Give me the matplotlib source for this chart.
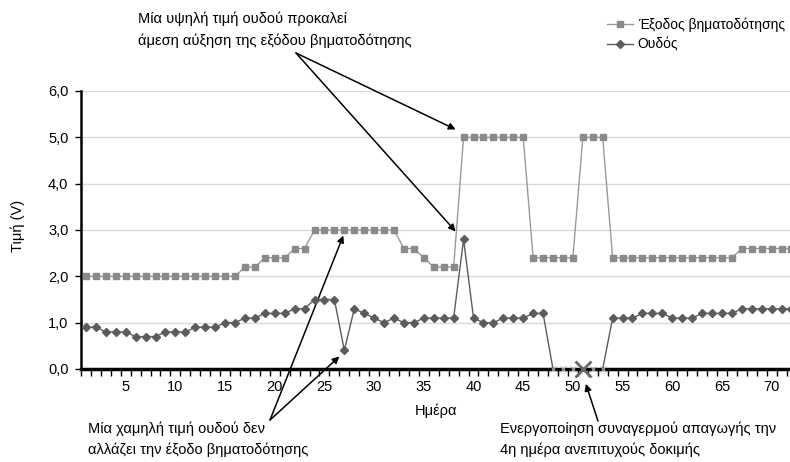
import matplotlib
matplotlib.use("Agg")
import matplotlib.pyplot as plt
from matplotlib import font_manager
from matplotlib.ticker import FixedLocator, FuncFormatter


def main():
    # font setup: narrow face for annotations if available
    installed = {f.name for f in font_manager.fontManager.ttflist}
    narrow = [f for f in ["Liberation Sans Narrow", "Liberation Sans", "DejaVu Sans"] if f in installed]
    regular = [f for f in ["Liberation Sans", "DejaVu Sans"] if f in installed]
    plt.rcParams['font.family'] = regular

    days = list(range(1, 73))
    pacing_output = [2.0, 2.0, 2.0, 2.0, 2.0, 2.0, 2.0, 2.0, 2.0, 2.0,
                     2.0, 2.0, 2.0, 2.0, 2.0, 2.0, 2.2, 2.2, 2.4, 2.4,
                     2.4, 2.6, 2.6, 3.0, 3.0, 3.0, 3.0, 3.0, 3.0, 3.0,
                     3.0, 3.0, 2.6, 2.6, 2.4, 2.2, 2.2, 2.2, 5.0, 5.0,
                     5.0, 5.0, 5.0, 5.0, 5.0, 2.4, 2.4, 2.4, 2.4, 2.4,
                     5.0, 5.0, 5.0, 2.4, 2.4, 2.4, 2.4, 2.4, 2.4, 2.4,
                     2.4, 2.4, 2.4, 2.4, 2.4, 2.4, 2.6, 2.6, 2.6, 2.6,
                     2.6, 2.6]
    threshold = [0.9, 0.9, 0.8, 0.8, 0.8, 0.7, 0.7, 0.7, 0.8, 0.8,
                 0.8, 0.9, 0.9, 0.9, 1.0, 1.0, 1.1, 1.1, 1.2, 1.2,
                 1.2, 1.3, 1.3, 1.5, 1.5, 1.5, 0.4, 1.3, 1.2, 1.1,
                 1.0, 1.1, 1.0, 1.0, 1.1, 1.1, 1.1, 1.1, 2.8, 1.1,
                 1.0, 1.0, 1.1, 1.1, 1.1, 1.2, 1.2, 0.0, 0.0, 0.0,
                 0.0, 0.0, 0.0, 1.1, 1.1, 1.1, 1.2, 1.2, 1.2, 1.1,
                 1.1, 1.1, 1.2, 1.2, 1.2, 1.2, 1.3, 1.3, 1.3, 1.3,
                 1.3, 1.3]
    alarm_day = 51
    y_ticks = [0, 1, 2, 3, 4, 5, 6]
    x_labels = [5, 10, 15, 20, 25, 30, 35, 40, 45, 50, 55, 60, 65, 70]

    fig = plt.figure(figsize=(7.9, 4.62), dpi=100)
    ax = fig.add_axes([81 / 790, 1 - 369 / 462, 1 - 81 / 790, (369 - 91) / 462])

    ax.set_xlim(0.5, 71.85)
    ax.set_ylim(0, 6)

    for y in y_ticks[1:]:
        ax.axhline(y, color='#d9d9d9', lw=1, zorder=0)

    sq_color = '#8a8a8a'
    dm_color = '#5c5c5c'
    out_line, = ax.plot(days, pacing_output, color='#9a9a9a', lw=1, marker='s', ms=5,
                        mfc=sq_color, mec=sq_color, label="Έξοδος βηματοδότησης",
                        zorder=3)
    nonzero = [i for i, v in enumerate(threshold) if v > 0]
    zero_days = [days[i] for i, v in enumerate(threshold) if v == 0]
    zero_vals = [v for v in threshold if v == 0]
    thr_line, = ax.plot(days, threshold, color='#5c5c5c', lw=1, marker='D', ms=4.5,
                        mfc=dm_color, mec=dm_color, markevery=nonzero, label="Ουδός",
                        zorder=4)
    ax.plot(zero_days, zero_vals, ls='none', marker='x', ms=4, mew=0.8, color='#b0b0b0',
            clip_on=False, zorder=5)
    ax.plot([alarm_day], [0], ls='none', marker='x', ms=12, mew=2, color='#686868',
            clip_on=False, zorder=6)

    for side in ['top', 'right']:
        ax.spines[side].set_visible(False)
    ax.spines['left'].set_linewidth(1.8)
    ax.spines['bottom'].set_linewidth(2.5)
    ax.spines['bottom'].set_zorder(4.5)

    ax.yaxis.set_major_locator(FixedLocator(y_ticks))
    ax.yaxis.set_major_formatter(FuncFormatter(lambda v, p: f"{v:.1f}".replace('.', ',')))
    ax.tick_params(axis='y', direction='out', length=4, width=1, labelsize=10.5, pad=5)

    ax.set_xticks(x_labels)
    ax.set_xticklabels([str(d) for d in x_labels])
    ax.set_xticks([d + 0.5 for d in range(0, 72)], minor=True)
    ax.tick_params(axis='x', which='major', length=0, labelsize=10.5, pad=8)
    ax.tick_params(axis='x', which='minor', direction='out', length=5, width=1)

    ax.set_xlabel("Ημέρα", fontsize=10.5, family=narrow, labelpad=7)
    fig.text(18 / 790, 1 - 226 / 462, "Τιμή (V)", rotation=90, ha='center', va='center',
             fontsize=10.5, family=narrow)

    leg = ax.legend(handles=[out_line, thr_line], loc='upper left',
                    bbox_to_anchor=(601 / 790, 1 - 12 / 462), bbox_transform=fig.transFigure,
                    frameon=False, prop={'family': narrow, 'size': 10},
                    handlelength=1.9, handletextpad=0.35, labelspacing=0.4, borderaxespad=0)
    for h in leg.legend_handles:
        h.set_markersize(4)

    def px(x, y):
        return (x / 790, 1 - y / 462)

    note_font = dict(fontsize=10.5, family=narrow, linespacing=1.65, va='top', ha='left')
    fig.text(*px(138, 12), "Μία υψηλή τιμή ουδού προκαλεί\nάμεση αύξηση της εξόδου βηματοδότησης",
             **note_font)
    fig.text(*px(88, 421), "Μία χαμηλή τιμή ουδού δεν\nαλλάζει την έξοδο βηματοδότησης",
             **note_font)
    fig.text(*px(500, 421), "Ενεργοποίηση συναγερμού απαγωγής την\n4η ημέρα ανεπιτυχούς δοκιμής",
             **note_font)

    arrow = dict(arrowstyle='-|>', color='black', lw=1.1, mutation_scale=10,
                 shrinkA=0, shrinkB=0)
    i39 = days.index(39)
    i26 = days.index(26)
    i27 = days.index(27)
    ax.annotate('', xy=(days[i39] - 0.8, pacing_output[i39] + 0.17), xytext=px(296, 53),
                textcoords='figure fraction', arrowprops=arrow, annotation_clip=False)
    ax.annotate('', xy=(days[i39] - 0.8, threshold[i39] + 0.17), xytext=px(296, 53),
                textcoords='figure fraction', arrowprops=arrow, annotation_clip=False)
    ax.annotate('', xy=(days[i26] + 0.9, pacing_output[i26] - 0.12), xytext=px(270, 420),
                textcoords='figure fraction', arrowprops=arrow, annotation_clip=False)
    ax.annotate('', xy=(days[i27] - 0.5, threshold[i27] - 0.13), xytext=px(270, 420),
                textcoords='figure fraction', arrowprops=arrow, annotation_clip=False)
    ax.annotate('', xy=(alarm_day + 0.3, -0.32), xytext=px(598, 421),
                textcoords='figure fraction', arrowprops=arrow, annotation_clip=False)

    fig.savefig("out.png", dpi=100)


if __name__ == "__main__":
    main()
